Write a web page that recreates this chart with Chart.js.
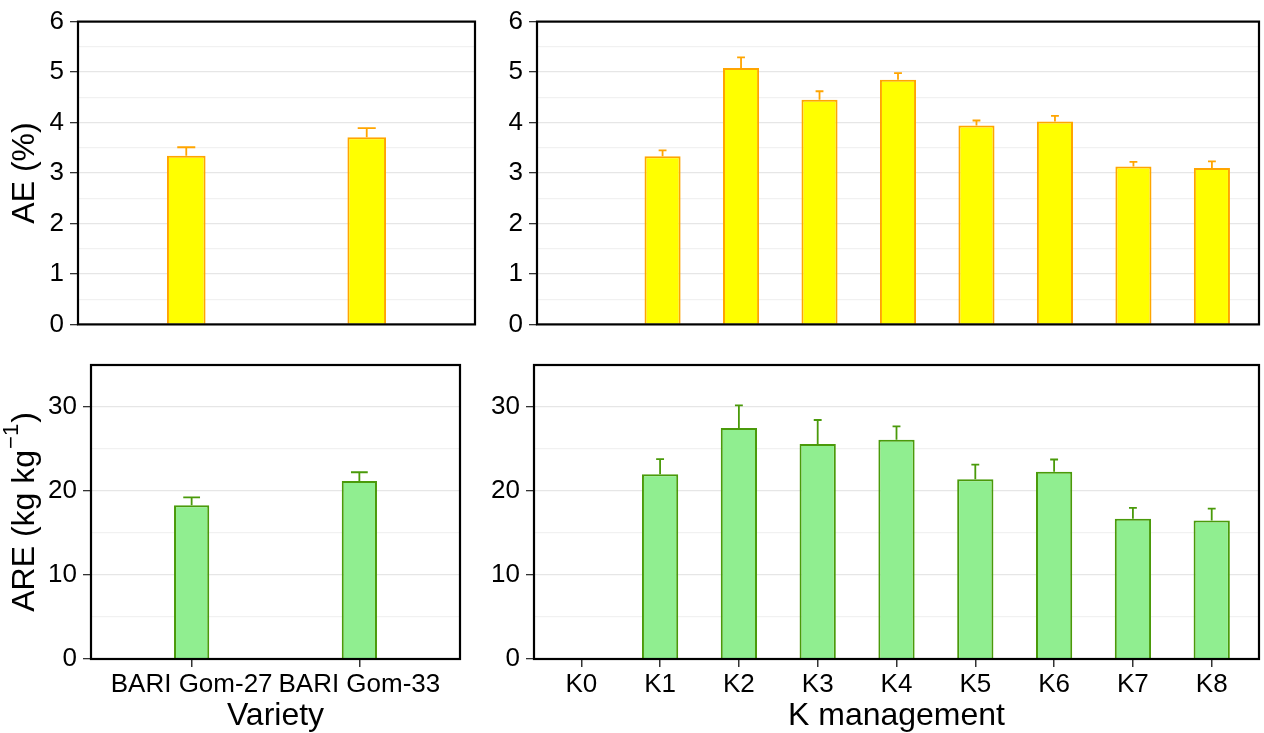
<!DOCTYPE html>
<html>
<head>
<meta charset="utf-8">
<script src="https://cdn.jsdelivr.net/npm/chart.js@4"></script>
<style>
  body { margin: 0; background: #fff; }
  canvas { position: absolute; }
</style>
</head>
<body>
<canvas id="ae-variety" width="480" height="346" style="left:0;top:0"></canvas>
<canvas id="ae-k" width="784" height="346" style="left:480px;top:0"></canvas>
<canvas id="are-variety" width="480" height="393" style="left:0;top:340px"></canvas>
<canvas id="are-k" width="784" height="393" style="left:480px;top:340px"></canvas>
<script>
// categories
const varieties = ["BARI Gom-27", "BARI Gom-33"];
const kLevels = ["K0", "K1", "K2", "K3", "K4", "K5", "K6", "K7", "K8"];

// AE (%) means and standard errors
const aeVariety = [3.34, 3.71];
const aeVarietySe = [0.17, 0.18];
const aeK = [null, 3.33, 5.08, 4.45, 4.85, 3.94, 4.02, 3.13, 3.10];
const aeKSe = [0, 0.12, 0.21, 0.17, 0.13, 0.10, 0.11, 0.09, 0.13];

// ARE (kg/kg) means and standard errors
const areVariety = [18.3, 21.2];
const areVarietySe = [0.95, 1.03];
const areK = [null, 22.0, 27.5, 25.6, 26.1, 21.4, 22.3, 16.7, 16.5];
const areKSe = [0, 1.8, 2.7, 2.85, 1.6, 1.75, 1.45, 1.3, 1.4];

const FONT = "'Liberation Sans', Arial, sans-serif";
Chart.defaults.font.family = FONT;
Chart.defaults.color = "#000";

// draws upper error bars and the black panel frame
const panelExtras = {
    id: 'panelExtras',
    afterDatasetsDraw(chart) {
        const ds = chart.data.datasets[0];
        const xs = chart.scales.x, ys = chart.scales.y;
        const ctx = chart.ctx;
        ctx.save();
        ctx.strokeStyle = ds.borderColor;
        ctx.lineWidth = 1.8;
        ds.data.forEach((d, i) => {
            if (d.y == null) return;
            const px = xs.getPixelForValue(d.x);
            const half = xs.getPixelForValue(d.x + 0.05) - px;
            const yTop = ys.getPixelForValue(d.y);
            const yErr = ys.getPixelForValue(d.y + ds.errors[i]);
            ctx.beginPath();
            ctx.moveTo(px, yTop);
            ctx.lineTo(px, yErr);
            ctx.moveTo(px - half, yErr);
            ctx.lineTo(px + half, yErr);
            ctx.stroke();
        });
        const a = chart.chartArea;
        ctx.strokeStyle = '#000';
        ctx.lineWidth = 2.2;
        ctx.strokeRect(a.left, a.top, a.right - a.left, a.bottom - a.top);
        ctx.restore();
    }
};

// y title with superscript for the ARE panel
const areTitle = {
    id: 'areTitle',
    afterDraw(chart) {
        const ctx = chart.ctx;
        const a = chart.chartArea;
        const main = "ARE (kg kg", sup = "\u22121", close = ")";
        ctx.save();
        ctx.translate(25, (a.top + a.bottom) / 2);
        ctx.rotate(-Math.PI / 2);
        ctx.fillStyle = '#000';
        ctx.textBaseline = 'middle';
        ctx.font = "32px " + FONT;
        const w1 = ctx.measureText(main).width;
        const w3 = ctx.measureText(close).width;
        ctx.font = "22px " + FONT;
        const w2 = ctx.measureText(sup).width;
        let x = -(w1 + w2 + w3 + 2) / 2;
        ctx.font = "32px " + FONT;
        ctx.fillText(main, x, 0);
        x += w1 + 1;
        ctx.font = "22px " + FONT;
        ctx.fillText(sup, x, -13);
        x += w2 + 1;
        ctx.font = "32px " + FONT;
        ctx.fillText(close, x, 0);
        ctx.restore();
    }
};

function makePanel(id, opts) {
    const data = opts.values.map((v, i) => ({ x: i + 1, y: v }));
    const n = opts.labels.length;
    return new Chart(document.getElementById(id), {
        type: 'bar',
        data: {
            datasets: [{
                data: data,
                errors: opts.errors,
                backgroundColor: opts.fill,
                borderColor: opts.border,
                borderWidth: 2,
                barPercentage: opts.barPct,
                categoryPercentage: 1
            }]
        },
        plugins: opts.plugins,
        options: {
            responsive: false,
            animation: false,
            layout: { padding: opts.padding },
            plugins: { legend: { display: false }, tooltip: { enabled: false } },
            scales: {
                x: {
                    type: 'linear',
                    min: 0.4,
                    max: n + 0.6,
                    offset: false,
                    display: opts.showX,
                    afterBuildTicks: (s) => { s.ticks = opts.labels.map((_, i) => ({ value: i + 1 })); },
                    afterFit: (s) => { s.height = opts.showX ? 74 : 0; },
                    ticks: {
                        autoSkip: false,
                        maxRotation: 0,
                        padding: 2,
                        font: { size: 26 },
                        callback: (v) => opts.labels[v - 1]
                    },
                    grid: { offset: false, drawOnChartArea: false, tickLength: 8, tickColor: '#333', lineWidth: 1.5 },
                    border: { display: false },
                    title: {
                        display: !!opts.xTitle,
                        text: opts.xTitle,
                        font: { size: 32, lineHeight: 1 },
                        padding: { top: 0, bottom: 1 }
                    }
                },
                y: {
                    min: 0,
                    max: opts.yMax,
                    afterFit: (s) => { s.width = opts.yWidth; },
                    ticks: {
                        stepSize: opts.yStep,
                        autoSkip: false,
                        padding: 6,
                        font: { size: 26 },
                        callback: (v) => (Math.round(v / opts.yMajor) * opts.yMajor === v ? v : '')
                    },
                    grid: {
                        tickLength: 8,
                        lineWidth: 1.3,
                        color: (c) => (c.tick && c.tick.value % opts.yMajor === 0 ? '#e6e6e6' : '#f1f1f1'),
                        tickColor: (c) => (c.tick && c.tick.value % opts.yMajor === 0 ? '#333' : 'rgba(0,0,0,0)')
                    },
                    border: { display: false },
                    title: {
                        display: !!opts.yTitle,
                        text: opts.yTitle,
                        font: { size: 32, lineHeight: 1.2 },
                        padding: { top: 6, bottom: 0 }
                    }
                }
            }
        }
    });
}

makePanel('ae-variety', {
    labels: varieties, values: aeVariety, errors: aeVarietySe,
    fill: '#ffff00', border: '#ffa500', barPct: 0.214,
    showX: false, yMax: 6, yStep: 0.5, yMajor: 1, yWidth: 78, yTitle: 'AE (%)',
    padding: { top: 20, right: 5, bottom: 11, left: 0 },
    plugins: [panelExtras]
});
makePanel('ae-k', {
    labels: kLevels, values: aeK, errors: aeKSe,
    fill: '#ffff00', border: '#ffa500', barPct: 0.46,
    showX: false, yMax: 6, yStep: 0.5, yMajor: 1, yWidth: 57,
    padding: { top: 20, right: 5, bottom: 11, left: 0 },
    plugins: [panelExtras]
});
makePanel('are-variety', {
    labels: varieties, values: areVariety, errors: areVarietySe,
    fill: '#90ee90', border: '#4a9a0a', barPct: 0.21,
    showX: true, xTitle: 'Variety', yMax: 35, yStep: 5, yMajor: 10, yWidth: 91,
    padding: { top: 25, right: 20, bottom: 0, left: 0 },
    plugins: [panelExtras, areTitle]
});
makePanel('are-k', {
    labels: kLevels, values: areK, errors: areKSe,
    fill: '#90ee90', border: '#4a9a0a', barPct: 0.46,
    showX: true, xTitle: 'K management', yMax: 35, yStep: 5, yMajor: 10, yWidth: 54,
    padding: { top: 25, right: 5, bottom: 0, left: 0 },
    plugins: [panelExtras]
});
</script>
</body>
</html>
